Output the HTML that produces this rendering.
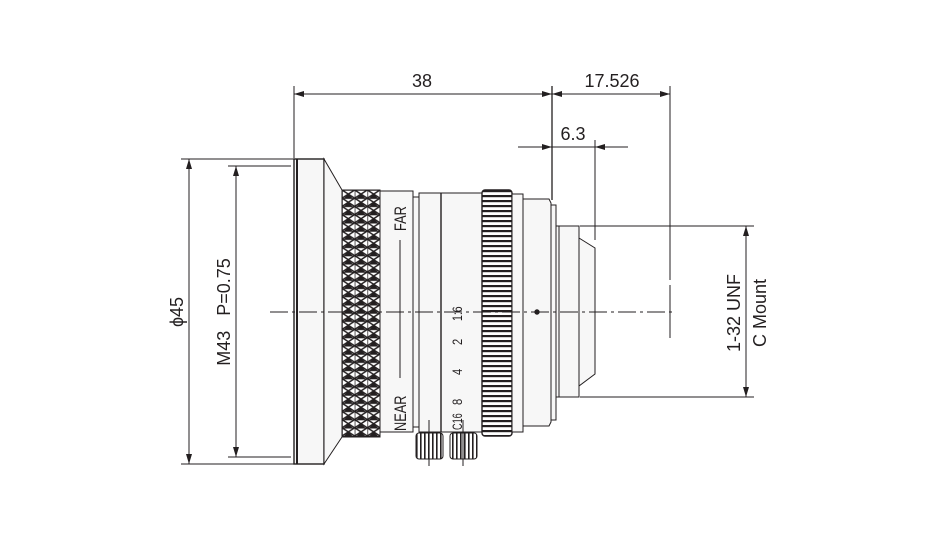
<!DOCTYPE html>
<html><head><meta charset="utf-8"><style>
html,body{margin:0;padding:0;background:#fff;}
svg{display:block;}
text{font-family:"Liberation Sans",sans-serif;fill:#231f20;}
</style></head><body>
<svg width="940" height="540" viewBox="0 0 940 540" xmlns="http://www.w3.org/2000/svg">
<defs>
<pattern id="knurl" x="342" y="190" width="12.67" height="8.2" patternUnits="userSpaceOnUse">
<rect width="12.67" height="8.2" fill="#fff"/>
<path d="M0,0 L12.67,8.2 M12.67,0 L0,8.2 M0,0 H12.67 M0,0 V8.2" stroke="#231f20" stroke-width="1.5" fill="none"/>
<path d="M6.33,4.1 L2,8.2 H10.6Z" fill="#231f20"/>
</pattern>
<pattern id="grip" x="482" y="0" width="30" height="5" patternUnits="userSpaceOnUse">
<rect width="30" height="5" fill="#fff"/>
<rect y="0" width="30" height="2.2" fill="#231f20"/>
</pattern>
<pattern id="vgrip" x="0" y="0" width="4" height="30" patternUnits="userSpaceOnUse">
<rect width="4" height="30" fill="#fff"/>
<rect width="1.6" height="30" fill="#231f20"/>
</pattern>
<marker id="ar" markerWidth="10" markerHeight="6" refX="10" refY="3" orient="auto" markerUnits="userSpaceOnUse">
<path d="M0,0 L10,3 L0,6Z" fill="#231f20"/>
</marker>
</defs>
<g stroke="#231f20" stroke-width="1" fill="#f7f7f7">
<!-- front flange -->
<rect x="294" y="159" width="30" height="305" stroke-width="1.4"/>
<line x1="297" y1="159" x2="297" y2="464" stroke-width="2"/>
<path d="M324,159 L342,190 L342,437 L324,464Z"/>
<!-- knurl -->
<rect x="342" y="190" width="38" height="247" fill="url(#knurl)"/>
<!-- focus tube -->
<rect x="380" y="191" width="33" height="241"/>
<rect x="413" y="197" width="6" height="230"/>
<!-- iris ring -->
<rect x="419" y="193" width="63" height="239"/>
<line x1="441" y1="193" x2="441" y2="432" stroke-width="1.4"/>
<!-- grip ring -->
<rect x="482" y="190" width="30" height="246" rx="3" fill="url(#grip)" stroke-width="1.4"/>
<rect x="512" y="194" width="11" height="238"/>
<!-- body -->
<path d="M523,199 H549 L551,203 V422 L549,426 H523Z"/>
<rect x="551" y="205" width="5" height="215"/>
<!-- mount -->
<rect x="556" y="226" width="23" height="171"/>
<line x1="559" y1="226" x2="559" y2="397"/>
<path d="M579,238 L595,248 L595,374 L579,386Z"/>
<circle cx="537" cy="312" r="2.2" fill="#231f20"/>
<!-- thumb screws -->
<rect x="416" y="433" width="27" height="26" rx="3" fill="url(#vgrip)"/>
<rect x="450" y="433" width="27" height="26" rx="3" fill="url(#vgrip)"/>
</g>
<g stroke="#231f20" stroke-width="1" fill="none">
<!-- center line -->
<line x1="270" y1="312" x2="672" y2="312" stroke-dasharray="18,4,3,4"/>
<line x1="429" y1="420" x2="429" y2="466"/>
<line x1="463" y1="420" x2="463" y2="466"/>
<!-- FAR/NEAR line -->
<line x1="400" y1="240" x2="400" y2="378"/>
<!-- top dims -->
<line x1="294" y1="86" x2="294" y2="158"/>
<line x1="552" y1="86" x2="552" y2="200" stroke-width="1.3"/>
<line x1="670" y1="86" x2="670" y2="280"/>
<line x1="670" y1="285" x2="670" y2="338"/>
<line x1="552" y1="94" x2="294" y2="94" marker-end="url(#ar)"/>
<line x1="294" y1="94" x2="552" y2="94" marker-end="url(#ar)"/>
<line x1="552" y1="94" x2="670" y2="94" marker-end="url(#ar)"/>
<line x1="670" y1="94" x2="552" y2="94" marker-end="url(#ar)"/>
<line x1="518" y1="147" x2="552" y2="147" marker-end="url(#ar)"/>
<line x1="628" y1="147" x2="595" y2="147" marker-end="url(#ar)"/>
<line x1="552" y1="147" x2="595" y2="147"/>
<line x1="595" y1="140" x2="595" y2="240"/>
<!-- left dims -->
<line x1="181" y1="159" x2="294" y2="159"/>
<line x1="181" y1="464" x2="294" y2="464"/>
<line x1="228" y1="166" x2="291" y2="166"/>
<line x1="228" y1="457" x2="291" y2="457"/>
<line x1="189" y1="312" x2="189" y2="159" marker-end="url(#ar)"/>
<line x1="189" y1="312" x2="189" y2="464" marker-end="url(#ar)"/>
<line x1="236" y1="312" x2="236" y2="166" marker-end="url(#ar)"/>
<line x1="236" y1="312" x2="236" y2="457" marker-end="url(#ar)"/>
<!-- right dims -->
<line x1="580" y1="226" x2="754" y2="226"/>
<line x1="580" y1="397" x2="754" y2="397"/>
<line x1="746" y1="312" x2="746" y2="226" marker-end="url(#ar)"/>
<line x1="746" y1="312" x2="746" y2="397" marker-end="url(#ar)"/>
</g>
<g font-size="18">
<text x="422" y="87" text-anchor="middle">38</text>
<text x="612" y="87" text-anchor="middle">17.526</text>
<text x="573" y="140" text-anchor="middle">6.3</text>
<text transform="translate(183,312) rotate(-90)" text-anchor="middle">ϕ45</text>
<text transform="translate(230,312) rotate(-90)" text-anchor="middle" xml:space="preserve">M43   P=0.75</text>
<text transform="translate(740,313) rotate(-90)" text-anchor="middle">1-32 UNF</text>
<text transform="translate(766,313) rotate(-90)" text-anchor="middle">C Mount</text>
</g>
<g font-size="17">
<text transform="translate(406,231) rotate(-90) scale(0.75,1)">FAR</text>
<text transform="translate(406,431) rotate(-90) scale(0.75,1)">NEAR</text>
</g>
<g font-size="14">
<text transform="translate(462,321) rotate(-90) scale(0.75,1)">1:6</text>
<text transform="translate(462,345) rotate(-90) scale(0.8,1)">2</text>
<text transform="translate(462,375) rotate(-90) scale(0.8,1)">4</text>
<text transform="translate(462,405) rotate(-90) scale(0.8,1)">8</text>
<text transform="translate(462,430) rotate(-90) scale(0.65,1)">C16</text>
</g>
</svg>
</body></html>
